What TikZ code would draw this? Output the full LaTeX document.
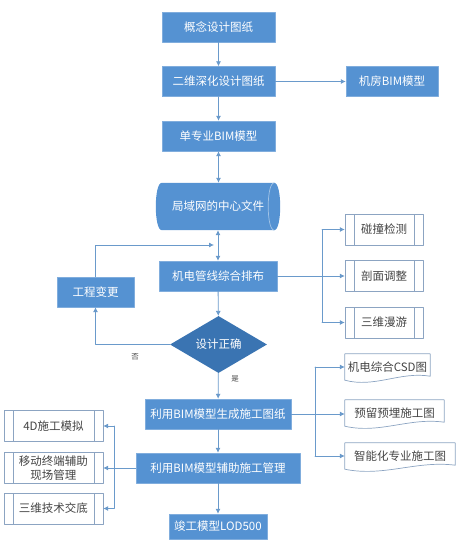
\documentclass[tikz,border=0pt]{standalone}
\usepackage{fontspec}
\setmainfont{Noto Sans CJK SC}
\usetikzlibrary{arrows.meta,shapes.geometric,calc}

\definecolor{boxblue}{HTML}{5592D2}
\definecolor{darkblue}{HTML}{3A74B2}
\definecolor{lineblue}{HTML}{6A9ACB}
\definecolor{greyblue}{HTML}{8CA4C2}
\definecolor{txtgrey}{HTML}{444444}

\tikzset{
  mainbox/.style={rectangle, fill=boxblue, draw=boxblue!75!white, text=white,
    minimum height=30pt, inner sep=1pt, font=\fontsize{11.5}{13}\selectfont},
  procbox/.style={rectangle, draw=greyblue, fill=white, text=txtgrey,
    minimum height=31pt, inner sep=1pt, align=center,
    font=\fontsize{11.5}{13.5}\selectfont,
    path picture={
      \draw[greyblue] ([xshift=9pt]path picture bounding box.north west)
        -- ([xshift=9pt]path picture bounding box.south west);
      \draw[greyblue] ([xshift=-9pt]path picture bounding box.north east)
        -- ([xshift=-9pt]path picture bounding box.south east);}},
  docbox/.style={rectangle, text=txtgrey, minimum height=26pt, inner sep=1pt,
    font=\fontsize{11.5}{13}\selectfont},
  lnk/.style={draw=lineblue, line width=0.8pt},
  arr/.style={lnk, -{Latex[length=5pt,width=5pt]}},
  dblarr/.style={lnk, {Latex[length=5pt,width=5pt]}-{Latex[length=5pt,width=5pt]}},
  tag/.style={text=txtgrey, font=\fontsize{7.5}{9}\selectfont, inner sep=0pt}
}

% 文档形状的外框：上平、下为波浪
\newcommand\docborder[1]{%
  \draw[greyblue, line width=0.7pt] (#1.south west)
    .. controls ($(#1.south west)!0.35!(#1.south east)+(0,8)$)
       and ($(#1.south west)!0.65!(#1.south east)+(0,-9)$)
    .. ($(#1.south east)+(0,-4)$) -- (#1.north east) -- (#1.north west) -- cycle;}

% 横放圆柱（数据库）外形：左侧凸弧，右端露出椭圆
\newcommand\drumshape[1]{%
  \fill[boxblue] (#1.north west)
    .. controls ($(#1.north west)+(-8,0)$) and ($(#1.south west)+(-8,0)$) .. (#1.south west)
    -- (#1.south east)
    .. controls ($(#1.south east)+(8,0)$) and ($(#1.north east)+(8,0)$) .. (#1.north east)
    -- cycle;
  \draw[boxblue!55!white, line width=0.7pt] (#1.north east)
    .. controls ($(#1.north east)+(-8,0)$) and ($(#1.south east)+(-8,0)$) .. (#1.south east);}

\begin{document}
\begin{tikzpicture}[x=1pt, y=-1pt, line cap=round, line join=round]

  %% ════ 主流程 ════
  \node[mainbox, minimum width=113pt] (concept) at (218.5,27) {概念设计图纸};
  \node[mainbox, minimum width=113pt] (deep) at (218.5,81.5) {二维深化设计图纸};
  \node[mainbox, minimum width=92pt] (room) at (392,81.5) {机房BIM模型};
  \node[mainbox, minimum width=113pt] (single) at (218.5,136) {单专业BIM模型};
  \node[rectangle, minimum width=112pt, minimum height=47pt, inner sep=1pt] (lan) at (218,206.5) {};
  \drumshape{lan}
  \node[text=white, font=\fontsize{11.5}{13}\selectfont] (lantxt) at (lan.center) {局域网的中心文件};
  \node[mainbox, minimum width=118pt] (pipe) at (218,276) {机电管线综合排布};
  \node[mainbox, minimum width=77pt] (change) at (95.5,292) {工程变更};
  \node[diamond, aspect=1.7, minimum width=97pt, minimum height=57pt, inner sep=0pt,
        fill=darkblue, text=white, font=\fontsize{11.5}{13}\selectfont] (judge) at (218.5,344.5) {设计正确};
  \node[mainbox, minimum width=146pt] (draw) at (218,414) {利用BIM模型生成施工图纸};
  \node[mainbox, minimum width=164pt] (mgmt) at (218,468) {利用BIM模型辅助施工管理};
  \node[mainbox, minimum width=98pt, minimum height=25pt] (final) at (218,526.5) {竣工模型LOD500};

  %% ════ 右侧：碰撞 / 剖面 / 漫游 ════
  \node[procbox, minimum width=78pt] (clash) at (384,229.5) {碰撞检测};
  \node[procbox, minimum width=78pt] (section) at (384,276) {剖面调整};
  \node[procbox, minimum width=78pt] (roam) at (384,322.5) {三维漫游};

  %% ════ 右侧：施工图（文档形状）════
  \node[docbox, minimum width=85pt] (csd) at (387.5,367) {机电综合CSD图};
  \node[docbox, minimum width=99pt] (embed) at (394.5,413) {预留预埋施工图};
  \node[docbox, minimum width=110pt] (smart) at (400,456) {智能化专业施工图};
  \docborder{csd}
  \docborder{embed}
  \docborder{smart}

  %% ════ 左侧：施工管理 ════
  \node[procbox, minimum width=99pt] (sim) at (53.5,426) {4D施工模拟};
  \node[procbox, minimum width=99pt] (mobile) at (53.5,468) {移动终端辅助\\现场管理};
  \node[procbox, minimum width=99pt] (brief) at (53.5,508.5) {三维技术交底};

  \coordinate (rb) at (322,0);
  \coordinate (db) at (315,0);
  \coordinate (lb) at (114,0);
  \coordinate (merge) at (214,245);

  %% ════ 连线 ════
  \draw[arr] (concept) -- (deep);
  \draw[arr] (deep) -- (room);
  \draw[arr] (deep) -- (single);
  \draw[dblarr] (single.south) -- (single.south |- lan.north);
  \draw[dblarr] (pipe.north |- lan.south) -- (pipe.north);
  \draw[arr] (change.north) |- (merge);
  \draw[arr] (pipe) -- (judge);
  \draw[arr] (judge.west) -| (change.south);
  \draw[arr] (judge) -- (draw);
  \draw[arr] (draw) -- (mgmt);
  \draw[arr] (mgmt) -- (final);

  \draw[arr] (pipe.east) -- (section.west);
  \draw[lnk] (rb |- clash) -- (rb |- roam);
  \draw[arr] (rb |- clash) -- (clash.west);
  \draw[arr] (rb |- roam) -- (roam.west);

  \draw[arr] (draw.east) -- (draw.east -| embed.west);
  \draw[lnk] (db |- csd) -- (db |- smart);
  \draw[arr] (db |- csd) -- (csd.west);
  \draw[arr] (db |- smart) -- (smart.west);

  \draw[arr] (mgmt.west) -- (mobile.east);
  \draw[lnk] (lb |- sim) -- (lb |- brief);
  \draw[arr] (lb |- sim) -- (sim.east);
  \draw[arr] (lb |- brief) -- (brief.east);

  %% ════ 判断标签 ════
  \node[tag] (no) at (135,357) {否};
  \node[tag] (yes) at (235,379) {是};

  \pgfresetboundingbox
  \path[use as bounding box] (0,0) rectangle (465,549);
\end{tikzpicture}
\end{document}
